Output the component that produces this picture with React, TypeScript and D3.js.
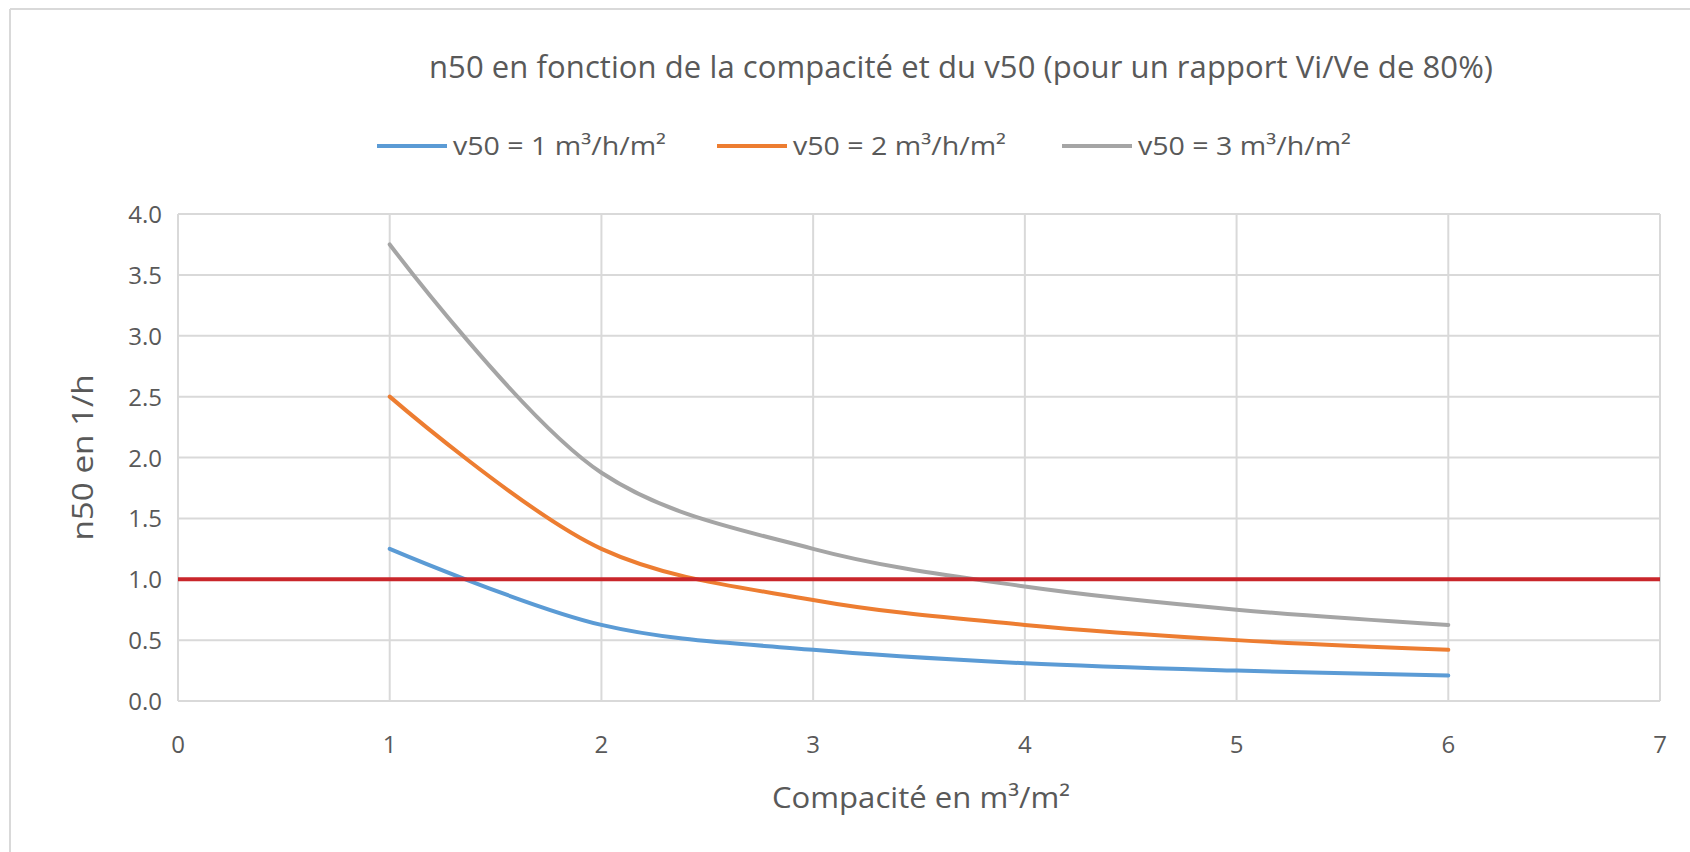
import React from "react";
import * as d3 from "d3";

const compacite = [1, 2, 3, 4, 5, 6];
const v50_1 = [1.25, 0.625, 0.42, 0.31, 0.25, 0.21];
const v50_2 = [2.5, 1.25, 0.83, 0.625, 0.5, 0.42];
const v50_3 = [3.75, 1.875, 1.25, 0.94, 0.75, 0.625];
const seriesNames = ["v50 = 1 m³/h/m²", "v50 = 2 m³/h/m²", "v50 = 3 m³/h/m²"];
const seriesColors = ["#5B9BD5", "#ED7D31", "#A5A5A5"];
const xTicks = [0, 1, 2, 3, 4, 5, 6, 7];
const yTicks = [0, 0.5, 1, 1.5, 2, 2.5, 3, 3.5, 4];
const limitValue = 1.0;

const W = 1690;
const H = 852;
const FONT = "'Open Sans', 'Noto Sans', sans-serif";
const TXT = "#595959";

export default function App() {
  const x = d3.scaleLinear().domain([0, 7]).range([178, 1660]);
  const y = d3.scaleLinear().domain([0, 4]).range([701, 214]);
  const seriesValues = [v50_1, v50_2, v50_3];
  const line = d3
    .line<[number, number]>()
    .x((d) => x(d[0]))
    .y((d) => y(d[1]))
    .curve(d3.curveCatmullRom.alpha(0.5));

  const legendX = [377, 717, 1062];

  return (
    <svg
      width={W}
      height={H}
      style={{ position: "absolute", left: 0, top: 0, background: "#fff" }}
    >
      <rect x={0} y={0} width={W} height={H} fill="#fff" />
      {/* frame */}
      <line x1={10} y1={9} x2={W} y2={9} stroke="#D9D9D9" strokeWidth={2} />
      <line x1={10} y1={9} x2={10} y2={H} stroke="#D9D9D9" strokeWidth={2} />

      <text
        x={961}
        y={78}
        textAnchor="middle"
        fontFamily={FONT}
        fontSize={31}
        fill={TXT}
        textLength={1064}
        lengthAdjust="spacing"
      >
        n50 en fonction de la compacité et du v50 (pour un rapport Vi/Ve de 80%)
      </text>

      {/* legend */}
      {seriesNames.map((n, i) => (
        <g key={n}>
          <line
            x1={legendX[i]}
            x2={legendX[i] + 70}
            y1={146}
            y2={146}
            stroke={seriesColors[i]}
            strokeWidth={4}
          />
          <text
            x={legendX[i] + 76}
            y={155}
            fontFamily={FONT}
            fontSize={26}
            fill={TXT}
            textLength={213}
            lengthAdjust="spacingAndGlyphs"
          >
            {n}
          </text>
        </g>
      ))}

      {/* gridlines */}
      {yTicks.map((t) => (
        <line
          key={"y" + t}
          x1={x(0)}
          x2={x(7)}
          y1={y(t)}
          y2={y(t)}
          stroke="#D9D9D9"
          strokeWidth={2}
        />
      ))}
      {xTicks.map((t) => (
        <line
          key={"x" + t}
          x1={x(t)}
          x2={x(t)}
          y1={y(0)}
          y2={y(4)}
          stroke="#D9D9D9"
          strokeWidth={2}
        />
      ))}

      {/* tick labels */}
      {yTicks.map((t) => (
        <text
          key={"yl" + t}
          x={162}
          y={y(t) + 9}
          textAnchor="end"
          fontFamily={FONT}
          fontSize={24}
          fill={TXT}
        >
          {t.toFixed(1)}
        </text>
      ))}
      {xTicks.map((t) => (
        <text
          key={"xl" + t}
          x={x(t)}
          y={753}
          textAnchor="middle"
          fontFamily={FONT}
          fontSize={24}
          fill={TXT}
        >
          {t}
        </text>
      ))}

      {/* axis titles */}
      <text
        x={921}
        y={808}
        textAnchor="middle"
        fontFamily={FONT}
        fontSize={29}
        fill={TXT}
        textLength={298}
        lengthAdjust="spacingAndGlyphs"
      >
        Compacité en m³/m²
      </text>
      <text
        transform={`translate(93, ${y(2)}) rotate(-90)`}
        textAnchor="middle"
        fontFamily={FONT}
        fontSize={29}
        fill={TXT}
        textLength={166}
        lengthAdjust="spacingAndGlyphs"
      >
        n50 en 1/h
      </text>

      {/* series */}
      {seriesValues.map((vals, i) => (
        <path
          key={i}
          d={line(compacite.map((c, j) => [c, vals[j]] as [number, number])) || ""}
          fill="none"
          stroke={seriesColors[i]}
          strokeWidth={4}
          strokeLinecap="round"
        />
      ))}

      {/* limit line */}
      <line
        x1={x(0)}
        x2={x(7)}
        y1={y(limitValue)}
        y2={y(limitValue)}
        stroke="#C9262B"
        strokeWidth={4}
      />
    </svg>
  );
}
